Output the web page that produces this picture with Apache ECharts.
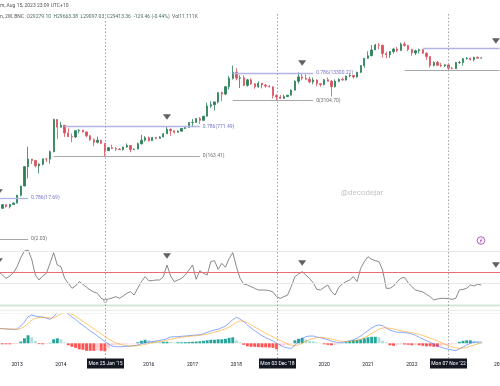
<!DOCTYPE html>
<html><head><meta charset="utf-8">
<script src="https://cdn.jsdelivr.net/npm/echarts@6/dist/echarts.min.js"></script>
<style>html,body{margin:0;padding:0;background:#fff}#c{width:500px;height:386px}</style>
</head><body><div id="c"></div>
<script>
// ---------- categories (monthly, Aug 2012 .. Jan 2024) ----------
const months = [];
for (let y = 2012, m = 8; months.length < 138; ) {
  months.push(y + '-' + String(m).padStart(2, '0'));
  m++; if (m > 12) { m = 1; y++; }
}
const yearTicks = ['2013','2014','2016','2017','2018','2020','2021','2022','2024'];

// ---------- candles [open, close, low, high] ----------
const c2012 = [[9.4,10.2,7.1,15.4],[10.2,12.4,10.0,12.9],[12.4,11.2,10.6,12.6],[11.2,12.6,10.2,12.9],[12.6,13.5,12.4,13.9]];
const c2013 = [[13.5,20.4,13.2,20.9],[20.4,33.4,19.1,33.8],[33.4,93,33.1,95],[93,139,50,266],[139,129,107,140],[129,97,89,129],[97,106,65,111],[106,141,100,141],[141,139,119,146],[139,206,109,218],[206,1135,200,1176],[1135,754,400,1150]];
const c2014 = [[754,830,740,1000],[830,555,450,850],[555,458,445,710],[458,447,340,540],[447,627,425,635],[627,640,545,680],[640,586,565,655],[586,478,440,600],[478,387,365,500],[387,338,275,415],[338,378,318,455],[378,320,305,385]];
const c2015 = [[320,217,163,320],[217,254,212,265],[254,244,238,300],[244,236,214,261],[236,230,228,248],[230,263,218,268],[263,284,254,317],[284,230,199,285],[230,236,226,243],[236,314,235,334],[314,377,299,502],[377,430,350,469]];
const c2016 = [[430,368,352,462],[368,437,365,448],[437,416,394,438],[416,448,414,467],[448,531,443,548],[531,673,528,780],[673,624,475,705],[624,573,534,626],[573,608,570,630],[608,701,605,720],[701,743,685,750],[743,963,740,975]];
const c2017 = [[963,970,750,1153],[970,1190,940,1210],[1190,1080,900,1290],[1080,1350,1060,1350],[1350,2300,1330,2760],[2300,2480,2100,2980],[2480,2875,1830,2920],[2875,4700,2650,4750],[4700,4340,2970,4980],[4340,6450,4110,6470],[6450,10000,5500,11400],[10000,13800,9400,19780]];
const c2018 = [[13800,10100,9000,17200],[10100,10300,6000,11800],[10300,6900,6600,11700],[6900,9240,6430,9750],[9240,7490,7030,10000],[7490,6390,5780,7770],[6390,7730,6100,8480],[7730,7030,5880,7760],[7030,6630,6120,7400],[6630,6370,6200,7000],[6370,4040,3450,6600],[4040,3740,3120,4300]];
const c2019 = [[3740,3460,3350,4110],[3460,3820,3370,4200],[3820,4100,3700,4130],[4100,5350,4080,5600],[5350,8570,5330,9070],[8570,10800,7500,13800],[10800,10080,9100,13100],[10080,9600,9350,12300],[9600,8300,7700,10950],[8300,9150,7300,10500],[9150,7550,6550,9500],[7550,7200,6430,7750]];
const c2020 = [[7200,9350,6870,9580],[9350,8550,8500,10500],[8550,6420,3850,9190],[6420,8630,6160,9460],[8630,9450,8100,10070],[9450,9140,8900,10380],[9140,11350,8900,11440],[11350,11650,10540,12470],[11650,10780,9880,12070],[10780,13800,10370,14100],[13800,19700,13200,19900],[19700,28990,17600,29300]];
const c2021 = [[28990,33100,28100,41900],[33100,45200,32300,58300],[45200,58800,45000,61800],[58800,57700,47000,64800],[57700,37300,30000,59500],[37300,35000,28800,41300],[35000,41500,29300,42300],[41500,47100,37300,50500],[47100,43800,39600,52900],[43800,61300,43300,66900],[61300,57000,53500,69000],[57000,46300,42000,59000]];
const c2022 = [[46300,38500,33000,47900],[38500,43200,34300,45800],[43200,45500,37300,48200],[45500,37700,37600,47400],[37700,31800,26700,40000],[31800,19900,17600,31900],[19900,23300,18800,24600],[23300,20000,19600,25200],[20000,19400,18150,22700],[19400,20500,18200,21000],[20500,17200,15500,21400],[17200,16550,16300,18400]];
const c2023 = [[16550,23100,16500,23900],[23100,23150,21400,25200],[23150,28450,19600,29200],[28450,29250,26900,31000],[29250,27200,25800,29800],[27200,30450,24800,31400],[30450,29200,28900,31800],[29200,29410,28700,30200]];

// ---------- RSI ----------
const rsi = [50.5,45.4,40.4,43.9,49.0,58.1,71.7,81.8,83.3,69.2,
 45.4,37.9,43.9,48.0,63.1,79.3,60.6,58.1,40.4,32.8,
 25.3,28.8,35.4,31.3,26.8,22.7,19.7,17.7,10.1,7.6,
 9.1,10.6,12.6,10.1,13.6,17.7,20.2,15.1,25.3,35.4,
 42.9,36.9,36.9,37.9,37.9,42.9,60.6,43.9,35.4,37.9,
 40.4,45.4,53.0,60.6,38.9,52.0,48.0,45.4,65.7,67.2,
 54.0,63.1,57.1,70.2,79.3,58.1,40.4,31.8,30.3,27.8,
 25.3,22.7,22.7,22.7,21.7,19.7,12.6,10.1,12.6,15.1,
 27.8,42.9,47.0,50.5,45.4,40.4,33.8,23.7,22.7,26.8,
 30.3,20.2,15.1,26.8,31.8,35.4,37.9,42.9,35.4,55.6,
 65.7,73.2,69.2,67.2,65.7,53.0,25.3,25.3,28.8,35.4,
 40.4,41.9,33.8,27.8,22.7,21.2,19.7,16.2,12.6,7.6,
 9.1,10.1,10.1,9.6,8.6,10.1,22.7,23.7,25.3,30.3,
 28.8,31.3,30.3];
const rsiLevels = [82, 50, 33];

// ---------- MACD ----------
const macd = [15.0,14.6,14.3,14.0,14.0,14.0,17.3,21.3,26.6,28.3,
 27.3,26.6,26.3,25.3,24.0,26.6,30.6,33.3,32.6,29.3,
 26.3,24.0,20.6,18.0,15.3,12.3,10.0,7.3,4.6,1.6,
 -0.7,-2.7,-3.4,-3.4,-3.4,-3.0,-2.7,-2.4,-1.7,-0.4,
 0.6,1.3,1.6,2.3,3.0,3.6,4.6,6.3,6.6,6.6,
 7.0,7.3,7.6,8.0,8.3,8.6,9.6,11.0,12.3,13.3,
 14.0,15.6,17.3,20.3,23.6,26.0,24.3,21.6,18.5,15.3,
 12.6,10.0,7.6,5.6,4.0,2.3,0.3,-1.7,-3.7,-4.7,
 -5.0,-2.0,1.6,4.6,6.6,7.3,7.3,6.3,5.6,4.6,
 3.6,2.3,1.3,0.6,1.0,1.6,2.6,3.3,5.0,7.3,
 10.0,12.6,15.3,17.3,18.3,17.6,15.3,13.3,12.0,11.0,
 11.0,10.6,10.3,9.3,8.0,6.0,4.3,2.6,1.0,-1.0,
 -2.7,-4.0,-5.0,-6.0,-6.7,-7.4,-5.7,-3.7,-1.7,0.0,
 1.0,1.3,1.3];
const signal = [14.5,14.6,14.5,14.3,14.1,14.0,14.8,16.8,19.8,23.0,
 25.0,25.8,26.0,25.8,25.2,25.5,27.2,29.5,31.0,30.6,
 29.0,27.0,24.5,22.0,19.5,17.0,14.5,12.0,9.5,7.0,
 4.5,2.2,0.5,-0.8,-1.8,-2.4,-2.6,-2.6,-2.4,-1.8,
 -1.0,-0.2,0.5,1.1,1.7,2.3,3.0,3.9,4.8,5.5,
 6.0,6.5,6.9,7.3,7.6,8.0,8.5,9.3,10.2,11.1,
 12.0,13.2,14.5,16.2,18.5,21.0,22.3,22.0,20.8,18.5,
 16.3,14.2,12.0,10.0,8.2,6.4,4.6,2.8,1.0,-0.6,
 -2.0,-2.5,-1.5,0.2,2.0,3.6,4.8,5.5,5.8,5.6,
 5.0,4.3,3.5,2.6,2.0,1.8,1.9,2.2,2.9,4.0,
 5.6,7.6,9.8,12.0,14.0,15.3,15.5,15.0,14.3,13.4,
 12.6,12.0,11.4,10.7,9.9,8.9,7.8,6.6,5.3,3.9,
 2.4,0.8,-0.8,-2.2,-3.5,-4.6,-5.0,-4.8,-4.2,-2.8,
 -1.8,-0.5,0.4];
const hist = [-1,-1,-1,-1,-0.7,-0.5,1.7,5,8,6,
 2.5,-0.8,-1,-0.7,0.5,4,5,4,1,-2,
 -3.5,-4.5,-6,-6.5,-7.5,-7.5,-7.5,-7,-7.5,-8,
 -5,-2,-1.5,-1.2,-1,-0.8,-0.5,-0.3,1,2.5,
 3.5,3,2,1.7,1.5,1.5,1.5,1.2,0.8,1,
 1,1.2,1.3,1.5,1.7,2,2.5,3,3.5,3.5,
 4,4,4.5,5.5,6,3,1,-1.5,-3,-3.5,
 -3.5,-3.8,-4,-4,-4.2,-4.5,-6,-3,-2,-1.5,
 -0.5,3,4.5,5.5,4,2.5,2,1,0.5,-1,
 -1.5,-2,-1.5,-1,0.3,1,2,3,3.5,4,
 5,6,6.5,6.5,6,2.5,1,-2,-2.5,-1.5,
 -1,-1.2,-1.5,-2,-1.5,-2,-2.5,-3,-3,-3.5,
 -3.5,-2.5,-2,-1.5,-1.2,-0.8,1.5,2.5,3,3,
 2.5,1.5,1];

// ---------- fib levels ----------
const fibPrice = [17.69, 2.03, 771.49, 163.41, 13300.22, 3104.70, 50200, 15600];
const fibRatio = ['0.786','0','0.786','0','0.786','0','0.786','0'];
const fibStart = [0, 0, 18, 15, 64, 64, 116, 111];
const fibEnd   = [8, 8, 55, 55, 86, 86, 137, 137];
const fibLabel = [true, true, true, true, true, true, false, false];

// ---------- signal markers ----------
const sigIdx = [0, 46, 83, 136];
const sigPrice = [24.3, 1290, 22500, 72400];
const sigRsi = [66.7, 74.2, 63.6, 60.6];

// ---------- crosshair dates ----------
const markerMonths = ['2015-01', '2018-12', '2022-11'];
const markerLabels = ["Mon 25 Jan '15", "Mon 03 Dec '18", "Mon 07 Nov '22"];

// ---------- build ----------
const candles = [].concat(c2012, c2013, c2014, c2015, c2016, c2017, c2018, c2019, c2020, c2021, c2022, c2023);
const UP = '#2a7f58', DOWN = '#d9505d';
const FONT = 'Roboto, "Noto Sans", sans-serif';

const fibLines = fibPrice.map((p, k) => {
  const is0 = fibRatio[k] === '0';
  const col = is0 ? '#a8a8a8' : '#b3b3e8';
  const lab = { show: fibLabel[k], position: 'end', distance: 3, fontSize: 5, fontFamily: FONT,
    color: is0 ? '#6f6f6f' : '#7474c8', formatter: fibRatio[k] + '(' + p.toFixed(2) + ')' };
  return [
    { coord: [fibStart[k], p], lineStyle: { color: col, width: is0 ? 1 : 1.3, type: 'solid' }, label: lab },
    { coord: [fibEnd[k], p], lineStyle: { color: col, width: is0 ? 1 : 1.3, type: 'solid' }, label: lab }
  ];
});

const histData = hist.map((v, i) => {
  const p = i > 0 ? hist[i - 1] : v;
  let c;
  if (v >= 0) c = v >= p ? '#26a69a' : '#b2dfdb';
  else c = v <= p ? '#ff5252' : '#ffcdd2';
  return { value: v, itemStyle: { color: c } };
});

const gridBase = { left: -3, width: 504.4, containLabel: false, outerBoundsMode: 'none' };
const xAx = (g) => ({
  type: 'category', gridIndex: g, data: months, boundaryGap: true,
  axisLine: { show: false }, axisTick: { show: false }, splitLine: { show: false },
  axisLabel: g === 2 ? {
    show: true, fontSize: 5, fontFamily: FONT, color: '#131722', margin: 5.5, hideOverlap: false,
    interval: (idx, val) => yearTicks.indexOf(String(val).slice(0, 4)) >= 0 && String(val).slice(5) === '01',
    formatter: (val) => String(val).slice(0, 4)
  } : { show: false }
});

const chart = echarts.init(document.getElementById('c'), null, { renderer: 'canvas', width: 500, height: 386 });
chart.setOption({
  animation: false,
  backgroundColor: '#ffffff',
  grid: [
    Object.assign({ top: 25, height: 222 }, gridBase),
    Object.assign({ top: 248.24, height: 56.76 }, gridBase),
    Object.assign({ top: 314, height: 43 }, gridBase)
  ],
  xAxis: [xAx(0), xAx(1), xAx(2)],
  yAxis: [
    { type: 'log', logBase: 10, gridIndex: 0, min: 1.3175, max: 169000, show: false, splitLine: { show: false } },
    { type: 'value', gridIndex: 1, min: 0, max: 86, show: false, splitLine: { show: false } },
    { type: 'value', gridIndex: 2, min: -13.7, max: 29.3, show: false, splitLine: { show: false } }
  ],
  series: [
    {
      type: 'candlestick', xAxisIndex: 0, yAxisIndex: 0, data: candles, barWidth: 1.8,
      itemStyle: { color: UP, color0: DOWN, borderColor: UP, borderColor0: DOWN, borderWidth: 0.8 },
      markLine: { silent: true, symbol: ['none', 'none'], animation: false, data: fibLines }
    },
    {
      type: 'scatter', xAxisIndex: 0, yAxisIndex: 0, symbol: 'triangle', symbolRotate: 180,
      symbolSize: [8, 5.5], itemStyle: { color: '#3a3a3a' },
      data: sigIdx.map((i, k) => [i, sigPrice[k]]), z: 5
    },
    {
      type: 'line', xAxisIndex: 1, yAxisIndex: 1, data: rsi, showSymbol: false,
      lineStyle: { color: '#7c7c7c', width: 0.9 },
      markLine: {
        silent: true, symbol: ['none', 'none'], animation: false, label: { show: false },
        data: rsiLevels.map(v => ({ yAxis: v, lineStyle: { color: v === 50 ? '#ef6a6a' : '#e8e8e8', width: 1, type: 'solid' } }))
      }
    },
    {
      type: 'scatter', xAxisIndex: 1, yAxisIndex: 1, symbol: 'triangle', symbolRotate: 180,
      symbolSize: [8, 5.5], itemStyle: { color: '#3a3a3a' },
      data: sigIdx.map((i, k) => [i, sigRsi[k]]), z: 5
    },
    {
      type: 'bar', xAxisIndex: 2, yAxisIndex: 2, data: histData, barCategoryGap: '20%'
    },
    {
      type: 'line', xAxisIndex: 2, yAxisIndex: 2, data: macd, showSymbol: false,
      lineStyle: { color: '#2962ff', width: 1, opacity: 0.55 }
    },
    {
      type: 'line', xAxisIndex: 2, yAxisIndex: 2, data: signal, showSymbol: false,
      lineStyle: { color: '#ff9800', width: 1, opacity: 0.55 }
    }
  ]
});

// ---------- overlay: crosshairs, date boxes, header, watermark ----------
const g = [];
g.push({ type: 'line', silent: true, z: 1, shape: { x1: 0, y1: 305.5, x2: 500, y2: 305.5 }, style: { stroke: '#d4e8da', lineWidth: 2 } });
g.push({ type: 'line', silent: true, z: 1, shape: { x1: 0, y1: 310.5, x2: 500, y2: 310.5 }, style: { stroke: '#ececec', lineWidth: 1 } });
g.push({ type: 'line', silent: true, z: 1, shape: { x1: 0, y1: 313.5, x2: 500, y2: 313.5 }, style: { stroke: '#f3f3f3', lineWidth: 1 } });

markerMonths.forEach((m, k) => {
  const x = Math.round(chart.convertToPixel({ xAxisIndex: 2 }, m)) + 0.5;
  g.push({ type: 'line', silent: true, z: 50, shape: { x1: x, y1: 14, x2: x, y2: 359 },
    style: { stroke: '#a3a3a3', lineWidth: 1, lineDash: [1.5, 2] } });
  g.push({ type: 'rect', silent: true, z: 60, shape: { x: x - 18.5, y: 358.5, width: 37, height: 10 }, style: { fill: '#131722' } });
  g.push({ type: 'text', silent: true, z: 61, style: { x: x, y: 363.5, text: markerLabels[k], fill: '#ffffff',
    fontSize: 5, fontFamily: FONT, align: 'center', verticalAlign: 'middle' } });
});
{
  const x0 = chart.convertToPixel({ xAxisIndex: 2 }, markerMonths[0]);
  g.push({ type: 'circle', silent: true, z: 55, shape: { cx: x0 + 0.5, cy: 301, r: 1.6 }, style: { fill: '#fff', stroke: '#999', lineWidth: 0.8 } });
}
// event icon
g.push({ type: 'circle', silent: true, z: 55, shape: { cx: 481, cy: 240.5, r: 3.8 }, style: { fill: '#fff', stroke: '#ab47bc', lineWidth: 0.9 } });
g.push({ type: 'polyline', silent: true, z: 56, shape: { points: [[482, 238.3], [480.2, 241], [481.8, 240.2], [480, 242.8]] }, style: { stroke: '#ab47bc', lineWidth: 0.7, fill: null } });
// header
g.push({ type: 'text', silent: true, z: 70, style: { x: 0, y: 6, text: 'm, Aug 15, 2023 23:09 UTC+10', fill: '#555', fontSize: 5, fontFamily: FONT, verticalAlign: 'middle' } });
g.push({ type: 'text', silent: true, z: 70, style: { x: 0, y: 17, text: '{a|n, 2W, BNC}  {b|O29279.10  H29663.38  L29097.03  C29413.36  -129.46 (-0.44%)}  {a|Vol}{b|11.111K}',
  fontSize: 5, fontFamily: FONT, verticalAlign: 'middle',
  rich: { a: { fill: '#555', fontSize: 5, fontFamily: FONT }, b: { fill: '#4b6f5a', fontSize: 5, fontFamily: FONT } } } });
// watermark
g.push({ type: 'text', silent: true, z: 40, style: { x: 362, y: 193, text: '@decodejar', fill: '#c4c4c4', fontSize: 8, fontFamily: FONT, align: 'center', verticalAlign: 'middle' } });

chart.setOption({ graphic: g });
</script>
</body></html>
